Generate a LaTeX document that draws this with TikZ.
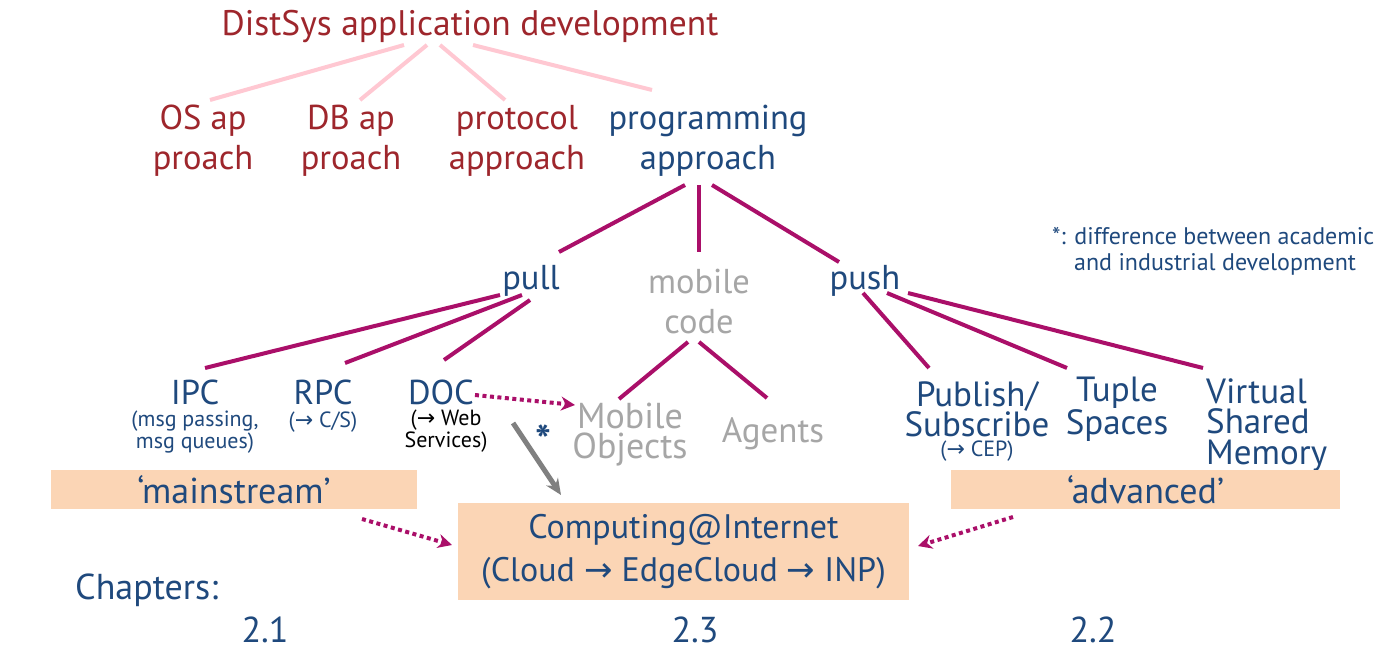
\documentclass[tikz,border=0pt]{standalone}
\usepackage{fontspec}
\setmainfont{PT Sans}
\newfontfamily\arrowfont{DejaVu Sans}
\usepackage{xcolor}
\usetikzlibrary{arrows.meta, calc}
\definecolor{titlered}{RGB}{158,38,44}
\definecolor{navy}{RGB}{31,73,125}
\definecolor{plum}{RGB}{170,15,105}
\definecolor{rose}{RGB}{255,200,210}
\definecolor{ash}{RGB}{166,166,166}
\definecolor{peach}{RGB}{251,213,181}
\newcommand{\toarr}{{\arrowfont\char"2192}}

\begin{document}
\begin{tikzpicture}[x=1pt, y=-1pt,
    big/.style={font=\fontsize{34.5}{40}\selectfont, align=center, inner sep=0pt, text=navy},
    tight/.style={font=\fontsize{35}{30.5}\selectfont},
    small/.style={font=\fontsize{22}{19}\selectfont, align=center, inner sep=0pt, text=navy},
    band/.style={fill=peach, inner sep=0pt, font=\fontsize{36}{43}\selectfont, align=center, text=navy},
    tree/.style={plum, line width=4pt},
    top/.style={rose, line width=4pt},
    hint/.style={plum, line width=4pt, dash pattern=on 4pt off 3.5pt, -{Stealth[length=14pt, width=14pt]}}]
    \fill[white] (0,0) rectangle (1388,655);
    \useasboundingbox (0,0) rectangle (1388,655);

    % 1. top level
    \node[big, text=titlered, font=\fontsize{35.5}{40}\selectfont] (T) at (470,27) {DistSys application development};
    \node[big, text=titlered] (os) at (203,141) {OS ap\\proach};
    \node[big, text=titlered] (db) at (351,141) {DB ap\\proach};
    \node[big, text=titlered] (proto) at (517,141) {protocol\\approach};
    \node[big] (prog) at (708,141) {programming\\approach};
    \foreach \n/\sx/\ex/\ey in {os/-66/7/-41, db/-43/9/-41, proto/-30/-12/-41, prog/3/-56/-51}
        \draw[top] ($(T)+(\sx,18)$) -- ($(\n)+(\ex,\ey)$);

    % 2. pull / mobile code / push
    \node[big] (pull) at (531,281) {pull};
    \node[big, text=ash] (mob) at (699,301) {mobile\\code};
    \node[big] (push) at (865,281) {push};
    \draw[tree] ($(prog)+(-23,44)$) -- ($(pull)+(28,-29)$);
    \draw[tree] ($(prog)+(-9,44)$) -- ($(mob)+(0,-49)$);
    \draw[tree] ($(prog)+(4,44)$) -- ($(push)+(-26,-19)$);

    % 3. leaves
    \node[big] (ipc) at (195,392) {IPC};
    \node[small] (ipcs) at (195,432) {(msg passing,\\msg queues)};
    \node[big] (rpc) at (323,392) {RPC};
    \node[small] (rpcs) at (323,422) {(\toarr\ C/S)};
    \node[big] (doc) at (441,392) {DOC};
    \node[small, text=black] (docs) at (446,431) {(\toarr\ Web\\Services)};
    \node[big, text=ash, font=\fontsize{36}{30}\selectfont] (mobj) at (630,435) {Mobile\\Objects};
    \node[big, text=ash, font=\fontsize{35}{40}\selectfont] (agents) at (773,434) {Agents};
    \node[big, tight] (pubsub) at (977,409) {Publish/\\Subscribe};
    \node[small] (cep) at (977,451) {(\toarr\ CEP)};
    \node[big, tight] (tuple) at (1117,409) {Tuple\\Spaces};
    \node[big, tight, align=left, anchor=west] (vsm) at (1206,425) {Virtual\\Shared\\Memory};
    \foreach \n/\sx/\sy/\ex/\ey in {ipc/-31/14/10/-24, rpc/-9/14/22/-29, doc/-1/19/3/-32}
        \draw[tree] ($(pull)+(\sx,\sy)$) -- ($(\n)+(\ex,\ey)$);
    \foreach \n/\sx/\ex in {mobj/-11/-11, agents/0/-6}
        \draw[tree] ($(mob)+(\sx,41)$) -- ($(\n)+(\ex,-36)$);
    \foreach \n/\sx/\ex/\ey in {pubsub/-2/-48/-41, tuple/22/-50/-41, vsm.west/43/-3/-57}
        \draw[tree] ($(push)+(\sx,12)$) -- ($(\n)+(\ex,\ey)$);

    % 4. bands and target box
    \node[band, minimum width=366pt, minimum height=39pt] (main) at (234,489.5) {‘mainstream’};
    \node[band, minimum width=389pt, minimum height=39pt] (adv) at (1145.5,489.5) {‘advanced’};
    \node[band, font=\fontsize{34}{43}\selectfont, minimum width=451pt, minimum height=97pt] (comp) at (683.5,551.5)
        {Computing@Internet\\(Cloud \toarr\ EdgeCloud \toarr\ INP)};
    \draw[hint] ($(doc)+(34,3)$) -- ($(mobj)+(-55,-30)$);
    \draw[hint] ($(main)+(128,29.5)$) -- ($(comp)+(-231.5,-6.5)$);
    \draw[hint] ($(adv)+(-132.5,27.5)$) -- ($(comp)+(234.5,-5.5)$);
    \draw[gray, line width=5pt, -{Stealth[length=16pt, width=14pt]}] ($(doc)+(72,31)$) -- ($(comp)+(-122.5,-56.5)$);
    \node[big, font=\fontsize{42}{40}\bfseries] (star) at (543,440) {*};

    % 5. chapters and note
    \node[big, anchor=west, font=\fontsize{36}{40}\selectfont] (chap) at (75,590) {Chapters:};
    \node[big, font=\fontsize{36}{40}\selectfont] (c1) at (265,630) {2.1};
    \node[big, font=\fontsize{36}{40}\selectfont] (c3) at (695,630) {2.3};
    \node[big, font=\fontsize{36}{40}\selectfont] (c2) at (1093,630) {2.2};
    \node[small, align=left, anchor=west, font=\fontsize{24}{26}\selectfont] (note) at (1052,251)
        {*: difference between academic\\\hspace*{22pt}and industrial development};
\end{tikzpicture}
\end{document}
